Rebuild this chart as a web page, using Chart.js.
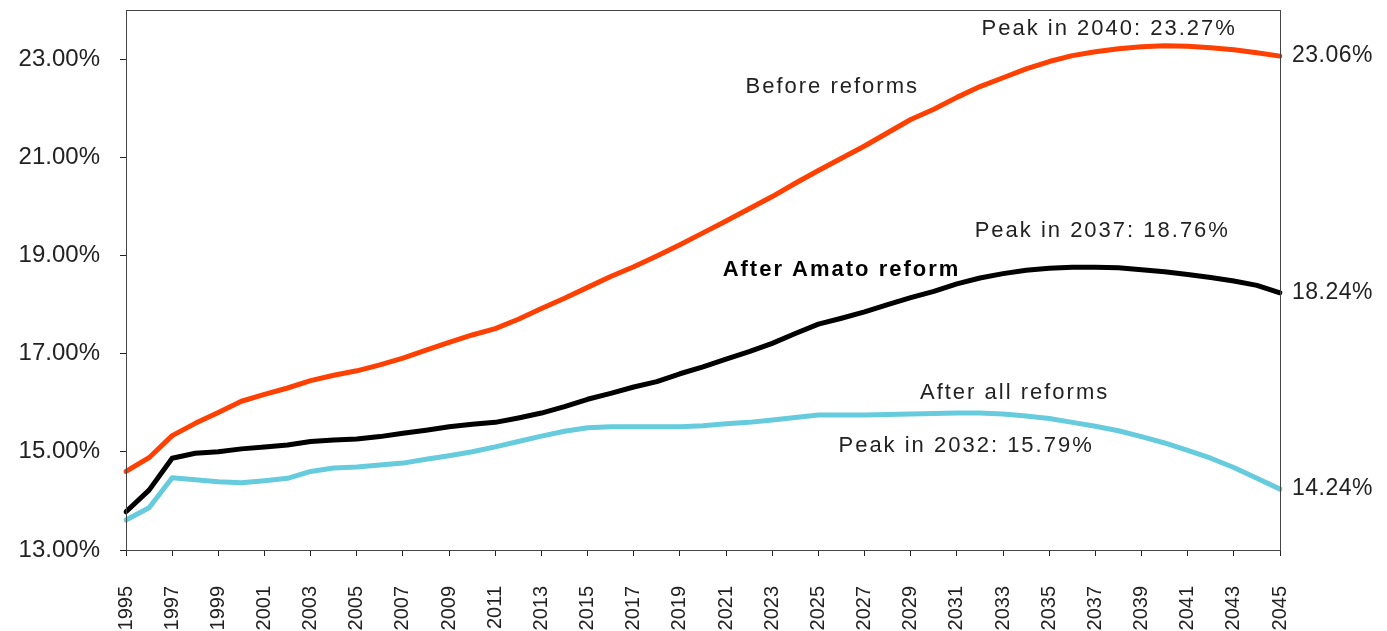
<!DOCTYPE html>
<html>
<head>
<meta charset="utf-8">
<script src="https://cdn.jsdelivr.net/npm/chart.js@4.4.0/dist/chart.umd.min.js"></script>
<style>
  html, body { margin: 0; padding: 0; background: #fff; }
  #wrap { width: 1387px; height: 631px; }
</style>
</head>
<body>
<div id="wrap"><canvas id="line-chart"></canvas></div>
<script>
// years on the x axis
var years = [1995, 1996, 1997, 1998, 1999, 2000, 2001, 2002, 2003, 2004,
             2005, 2006, 2007, 2008, 2009, 2010, 2011, 2012, 2013, 2014,
             2015, 2016, 2017, 2018, 2019, 2020, 2021, 2022, 2023, 2024,
             2025, 2026, 2027, 2028, 2029, 2030, 2031, 2032, 2033, 2034,
             2035, 2036, 2037, 2038, 2039, 2040, 2041, 2042, 2043, 2044, 2045];

// pension spending, % of GDP
var beforeReforms = [14.60, 14.88, 15.33, 15.58, 15.80, 16.03, 16.17, 16.30, 16.45, 16.56,
                     16.65, 16.77, 16.91, 17.07, 17.23, 17.38, 17.51, 17.70, 17.92, 18.13,
                     18.35, 18.57, 18.77, 18.99, 19.22, 19.46, 19.70, 19.95, 20.20, 20.47,
                     20.73, 20.98, 21.23, 21.50, 21.77, 21.98, 22.22, 22.44, 22.62, 22.80,
                     22.95, 23.07, 23.15, 23.21, 23.25, 23.27, 23.26, 23.23, 23.19, 23.13, 23.06];

var afterAmato = [13.78, 14.22, 14.87, 14.97, 15.00, 15.06, 15.10, 15.14, 15.21, 15.24,
                  15.26, 15.31, 15.38, 15.44, 15.51, 15.56, 15.60, 15.69, 15.79, 15.92,
                  16.07, 16.19, 16.32, 16.43, 16.59, 16.73, 16.89, 17.04, 17.21, 17.41,
                  17.60, 17.72, 17.85, 18.00, 18.14, 18.27, 18.42, 18.54, 18.63, 18.70,
                  18.74, 18.76, 18.76, 18.75, 18.71, 18.67, 18.61, 18.55, 18.48, 18.39, 18.24];

var afterAll = [13.61, 13.86, 14.47, 14.43, 14.39, 14.37, 14.41, 14.46, 14.60, 14.67,
                14.69, 14.73, 14.77, 14.85, 14.92, 15.00, 15.10, 15.21, 15.32, 15.42,
                15.49, 15.51, 15.51, 15.51, 15.51, 15.53, 15.57, 15.60, 15.65, 15.70,
                15.75, 15.75, 15.75, 15.76, 15.77, 15.78, 15.79, 15.79, 15.77, 15.73,
                15.68, 15.60, 15.52, 15.43, 15.31, 15.18, 15.03, 14.87, 14.68, 14.46, 14.24];

var yTicks = [13, 15, 17, 19, 21, 23];

// text notes placed in data units (year, value at baseline)
var notes = [
    { text: 'Peak in 2040: 23.27%', year: 2037.6, value: 23.49, bold: false },
    { text: 'Before reforms',       year: 2025.6, value: 22.31, bold: false },
    { text: 'Peak in 2037: 18.76%', year: 2037.3, value: 19.38, bold: false },
    { text: 'After Amato reform',   year: 2026.0, value: 18.58, bold: true },
    { text: 'After all reforms',    year: 2033.5, value: 16.08, bold: false },
    { text: 'Peak in 2032: 15.79%', year: 2031.4, value: 15.00, bold: false }
];

var FONT = '"Liberation Sans", Arial, Helvetica, sans-serif';

var notesPlugin = {
    id: 'notes',
    afterDatasetsDraw: function(chart) {
        var ctx = chart.ctx, a = chart.chartArea;
        var xs = chart.scales.x, ys = chart.scales.y;
        ctx.save();
        // plot frame
        ctx.strokeStyle = '#444';
        ctx.lineWidth = 1;
        ctx.strokeRect(Math.round(a.left) + 0.5, Math.round(a.top) + 0.5,
                       Math.round(a.right - a.left), Math.round(a.bottom - a.top));

        ctx.textBaseline = 'alphabetic';
        ctx.textAlign = 'center';
        if ('letterSpacing' in ctx) ctx.letterSpacing = '2px';
        notes.forEach(function(n) {
            ctx.font = (n.bold ? 'bold ' : '') + '22px ' + FONT;
            ctx.fillStyle = n.bold ? '#000' : '#222';
            ctx.fillText(n.text, xs.getPixelForValue(n.year - years[0]), ys.getPixelForValue(n.value));
        });

        // end values at the right of the frame
        if ('letterSpacing' in ctx) ctx.letterSpacing = '0.5px';
        ctx.font = '23px ' + FONT;
        ctx.fillStyle = '#222';
        ctx.textAlign = 'left';
        ctx.textBaseline = 'middle';
        chart.data.datasets.forEach(function(ds) {
            var last = ds.data[ds.data.length - 1];
            ctx.fillText(last.toFixed(2) + '%', a.right + 12, ys.getPixelForValue(last));
        });
        ctx.restore();
    }
};

new Chart(document.getElementById('line-chart'), {
    type: 'line',
    data: {
        labels: years,
        datasets: [
            {
                label: 'Before reforms',
                data: beforeReforms,
                borderColor: '#FF4000',
                borderWidth: 5,
                pointRadius: 0,
                tension: 0,
                borderCapStyle: 'round',
                borderJoinStyle: 'round'
            }, {
                label: 'After Amato reform',
                data: afterAmato,
                borderColor: '#000000',
                borderWidth: 5,
                pointRadius: 0,
                tension: 0,
                borderCapStyle: 'round',
                borderJoinStyle: 'round'
            }, {
                label: 'After all reforms',
                data: afterAll,
                borderColor: '#66CCDD',
                borderWidth: 5,
                pointRadius: 0,
                tension: 0,
                borderCapStyle: 'round',
                borderJoinStyle: 'round'
            }
        ]
    },
    options: {
        responsive: true,
        maintainAspectRatio: false,
        animation: false,
        layout: { padding: { top: 10, right: 107, left: 0, bottom: 0 } },
        plugins: {
            legend: { display: false },
            title: { display: false },
            tooltip: { enabled: true }
        },
        scales: {
            x: {
                type: 'category',
                offset: false,
                border: { display: true, color: '#222', width: 1 },
                grid: { drawOnChartArea: false, drawTicks: true, tickLength: 6, color: '#222' },
                ticks: {
                    autoSkip: false,
                    minRotation: 90,
                    maxRotation: 90,
                    padding: 30,
                    color: '#222',
                    font: { family: FONT, size: 20 },
                    callback: function(val, i) { return i % 2 === 0 ? String(years[i]) : null; }
                },
                afterFit: function(scale) {
                    scale.height = 81;
                    scale.paddingLeft = 0;
                    scale.paddingRight = 0;
                }
            },
            y: {
                min: 13,
                max: 24,
                border: { display: true, color: '#222', width: 1 },
                grid: { drawOnChartArea: false, drawTicks: true, tickLength: 6, color: '#222' },
                afterBuildTicks: function(scale) {
                    scale.ticks = yTicks.map(function(v) { return { value: v }; });
                },
                ticks: {
                    padding: 20,
                    color: '#222',
                    font: { family: FONT, size: 24 },
                    callback: function(v) { return Number(v).toFixed(2) + '%'; }
                },
                afterFit: function(scale) {
                    scale.width = 126;
                    scale.paddingTop = 0;
                    scale.paddingBottom = 0;
                }
            }
        }
    },
    plugins: [notesPlugin]
});
</script>
</body>
</html>
